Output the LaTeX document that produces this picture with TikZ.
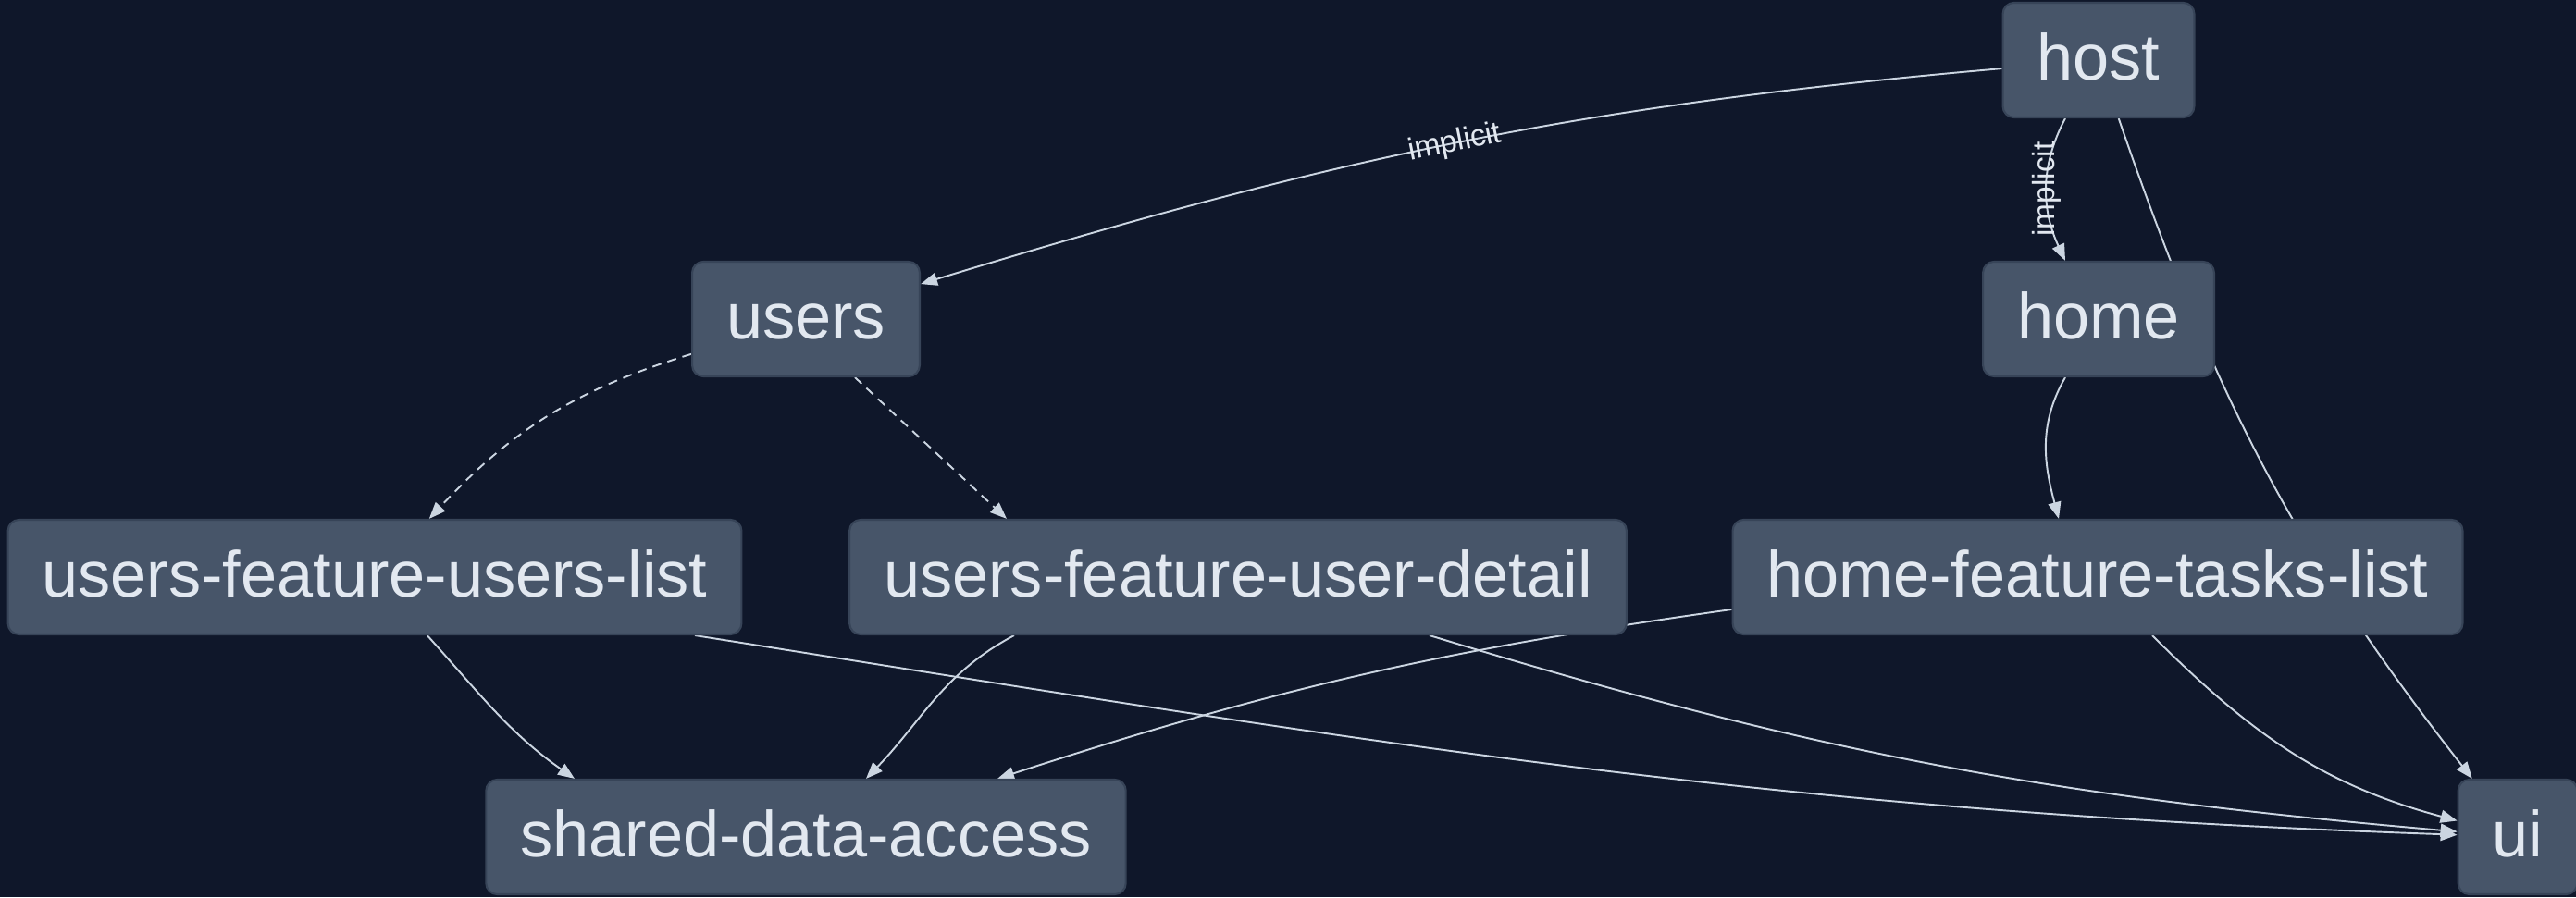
\documentclass[tikz,border=0pt]{standalone}
\usepackage{fontspec}
\setmainfont{Liberation Sans}
\usetikzlibrary{arrows.meta, positioning}
\definecolor{canvas}{RGB}{15,23,42}
\definecolor{boxfill}{RGB}{71,85,105}
\definecolor{boxline}{RGB}{55,68,88}
\definecolor{boxtext}{RGB}{226,232,240}
\definecolor{wire}{RGB}{203,213,225}
\pgfdeclarelayer{bglayer}
\pgfdeclarelayer{wirelayer}
\pgfsetlayers{bglayer,wirelayer,main}

\begin{document}
\begin{tikzpicture}[
    module/.style={rectangle, rounded corners=0.12cm, draw=boxline, line width=0.6pt, fill=boxfill, minimum height=1.24cm, inner xsep=0.37cm, text height=14pt, text depth=1.5pt, font=\fontsize{20}{24}\selectfont, text=boxtext},
    dep/.style={draw=wire, line width=0.55pt, -{Triangle[length=0.18cm, width=0.14cm]}},
    lazy/.style={dep, dash pattern=on 0.1cm off 0.07cm},
    lbl/.style={font=\fontsize{9.5}{11}\selectfont, text=boxtext, inner sep=0pt}
]
\begin{pgfonlayer}{bglayer}
\fill[canvas] (0,0) rectangle (27.84,9.70);
\end{pgfonlayer}
\useasboundingbox (0,0) rectangle (27.84,9.70);

% modules, one row per level
\node[module] (host) at (22.68,9.05) {host};
\node[module] (users) at (8.71,6.25) {users};
\node[module] (home) at (22.68,6.25) {home};
\node[module] (uful) at (4.05,3.46) {users-feature-users-list};
\node[module] (ufud) at (13.38,3.46) {users-feature-user-detail};
\node[module] (hftl) at (22.67,3.46) {home-feature-tasks-list};
\node[module] (sda) at (8.71,0.65) {shared-data-access};
\node[module] (ui) at (27.21,0.65) {ui};

\begin{pgfonlayer}{wirelayer}
\draw[dep] (host) to[out=185, in=17] node[lbl, sloped] {implicit} (users);
\draw[dep] ([xshift=-0.36cm]host.south) to[out=-118, in=115] node[lbl, rotate=90] {implicit} ([xshift=-0.36cm]home.north);
\draw[dep] (host) to[out=-71, in=128] (ui);

\draw[lazy] (users) to[out=197, in=47] (uful);
\draw[lazy] (users.-50) -- ([xshift=-2.5cm]ufud.north);
\draw[dep] ([xshift=-0.36cm]home.south) to[out=-120, in=105] ([xshift=-0.42cm]hftl.north);

\draw[dep] (uful) to[out=-48, in=145] ([xshift=-2.5cm]sda.north);
\draw[dep] ([xshift=3.46cm]uful.south) to[out=-9, in=178] (ui);
\draw[dep] ([xshift=-2.42cm]ufud.south) to[out=208, in=46] ([xshift=0.65cm]sda.north);
\draw[dep] ([xshift=2.07cm]ufud.south) to[out=-17, in=175] (ui);
\draw[dep] ([yshift=-0.35cm]hftl.west) to[out=188, in=18] ([xshift=2.07cm]sda.north);
\draw[dep] ([xshift=0.59cm]hftl.south) to[out=-45, in=165] (ui);
\end{pgfonlayer}
\end{tikzpicture}
\end{document}
